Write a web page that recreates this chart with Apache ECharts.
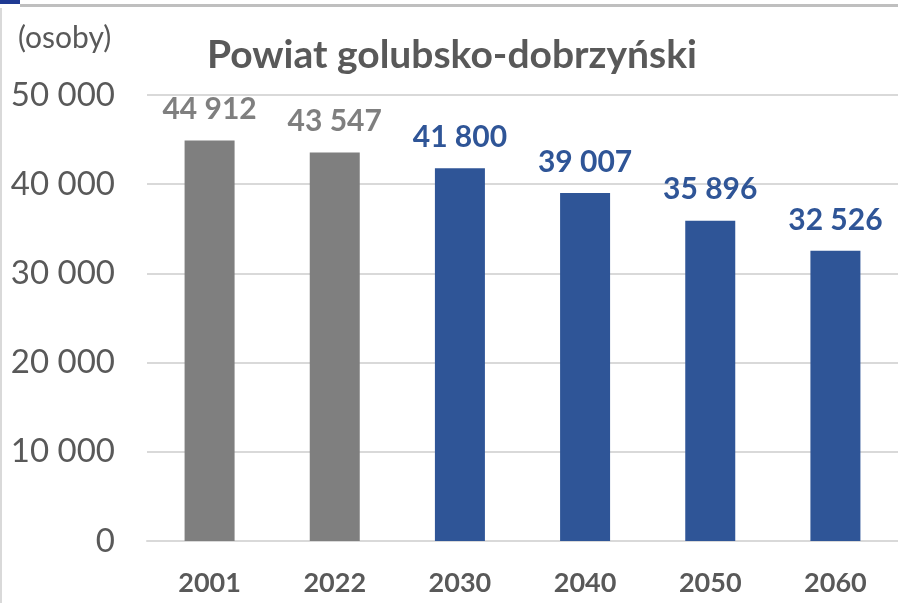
<!DOCTYPE html>
<html><head><meta charset="utf-8">
<script src="https://cdn.jsdelivr.net/npm/echarts@6/dist/echarts.min.js"></script>
<style>html,body{margin:0;padding:0;background:#fff;}#c{width:898px;height:603px;}</style>
</head><body><div id="c"></div>
<script>
const categories = ['2001','2022','2030','2040','2050','2060'];
const values = [44912, 43547, 41800, 39007, 35896, 32526];
const isHistoric = [true, true, false, false, false, false];
const yTicks = [0, 10000, 20000, 30000, 40000, 50000];
const titleText = 'Powiat golubsko-dobrzyński';
const unitText = '(osoby)';

const GRAY = '#7f7f7f', BLUE = '#2f5597', TXT = '#595959';
const FONT = 'Lato';
function fmt(v){ return String(v).replace(/\B(?=(\d{3})+(?!\d))/g, ' '); }

const chart = echarts.init(document.getElementById('c'), null, {renderer:'canvas'});
chart.setOption({
  animation:false,
  backgroundColor:'#fff',
  textStyle:{fontFamily:FONT},
  graphic:[
    {type:'rect', shape:{x:0,y:0,width:20,height:4}, style:{fill:'#1f3a93'}},
    {type:'rect', shape:{x:20,y:4,width:878,height:3}, style:{fill:'#bfbfbf'}},
    {type:'rect', shape:{x:0,y:8,width:2,height:595}, style:{fill:'#d9d9d9'}},
    {type:'text', left:18, top:23, style:{text:unitText, fontSize:30, fontFamily:FONT, fill:TXT}}
  ],
  title:{text:titleText, left:452, top:36, textAlign:'center', padding:0,
    textStyle:{fontFamily:FONT, fontSize:39, fontWeight:'bold', color:TXT}},
  grid:{left:147, right:-1, top:95, bottom:62, containLabel:false},
  xAxis:{type:'category', data:categories,
    axisLine:{show:true, lineStyle:{color:'#d9d9d9', width:2}},
    axisTick:{show:false},
    axisLabel:{fontFamily:FONT, fontSize:27, fontWeight:'bold', color:TXT, margin:29}},
  yAxis:{type:'value', min:0, max:50000, interval:10000,
    axisLine:{show:false}, axisTick:{show:false},
    splitLine:{lineStyle:{color:'#d9d9d9', width:2}},
    axisLabel:{fontFamily:FONT, fontSize:33, color:TXT, margin:32, formatter:v=>fmt(v)}},
  series:[{type:'bar', barWidth:50,
    data: values.map((v,i)=>({value:v, itemStyle:{color:isHistoric[i]?GRAY:BLUE},
      label:{color:isHistoric[i]?GRAY:BLUE}})),
    label:{show:true, position:'top', distance:16, fontFamily:FONT, fontSize:30, fontWeight:'bold',
      formatter:p=>fmt(p.value)}
  }]
});
</script></body></html>
